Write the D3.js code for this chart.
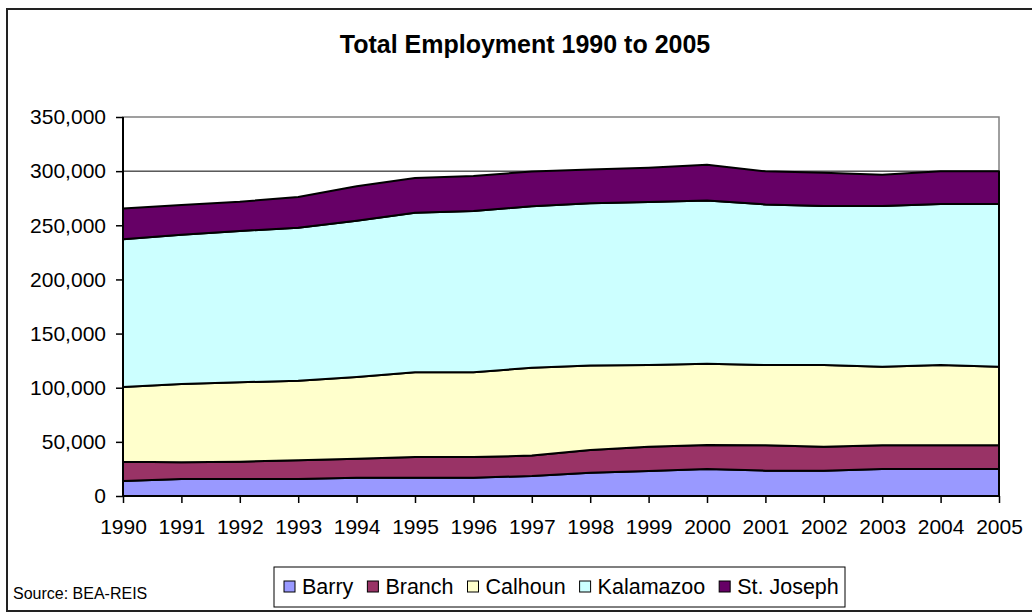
<!DOCTYPE html>
<html>
<head>
<meta charset="utf-8">
<script src="https://cdn.jsdelivr.net/npm/d3@7"></script>
<style>
  body { margin: 0; background: #fff; }
  text { font-family: "Liberation Sans", Arial, sans-serif; }
</style>
</head>
<body>
<svg width="1032" height="613"></svg>
<script>
// values
var years = ["1990", "1991", "1992", "1993", "1994", "1995", "1996", "1997",
  "1998", "1999", "2000", "2001", "2002", "2003", "2004", "2005"];
var counties = ["Barry", "Branch", "Calhoun", "Kalamazoo", "St. Joseph"];
var barry = [13900, 15700, 15700, 15700, 16900, 16900, 16900, 18500, 21500, 23000, 24900, 23400, 23400, 24900, 24900, 24900];
var branch = [17800, 15400, 16000, 17200, 17600, 19100, 19100, 18800, 21000, 22500, 22200, 23400, 22100, 21900, 21900, 21900];
var calhoun = [68900, 72300, 73300, 73600, 75400, 78200, 78200, 81200, 77900, 75500, 75100, 74200, 75500, 72600, 74200, 72600];
var kalamazoo = [136400, 137900, 139700, 141300, 144300, 147400, 149000, 149000, 149900, 150500, 150800, 148300, 146800, 148400, 148600, 150200];
var stJoseph = [28600, 27400, 27100, 28300, 31800, 32000, 32300, 32200, 31300, 31700, 32900, 30500, 30800, 28900, 30200, 30200];
var yTicks = [0, 50000, 100000, 150000, 200000, 250000, 300000, 350000];
var colors = ["#9999ff", "#993366", "#ffffcc", "#ccffff", "#660066"];

var rows = years.map(function(y, i) {
  return { year: y, "Barry": barry[i], "Branch": branch[i], "Calhoun": calhoun[i], "Kalamazoo": kalamazoo[i], "St. Joseph": stJoseph[i] };
});

var svg = d3.select("svg");

var x = d3.scalePoint().domain(years).range([123, 999]);
var y = d3.scaleLinear().domain([0, 350000]).range([496, 117]);
var z = d3.scaleOrdinal().domain(counties).range(colors);

// outer frame
svg.append("rect")
  .attr("x", 7).attr("y", 9)
  .attr("width", 1040).attr("height", 602)
  .attr("fill", "#fff")
  .attr("stroke", "#222")
  .attr("stroke-width", 2);

svg.append("text")
  .attr("x", 525).attr("y", 53)
  .attr("text-anchor", "middle")
  .attr("font-size", 25)
  .attr("font-weight", "bold")
  .text("Total Employment 1990 to 2005");

// gridlines
svg.append("g")
  .selectAll("line")
  .data(yTicks.slice(1, -1))
  .enter().append("line")
  .attr("x1", 123).attr("x2", 999)
  .attr("y1", function(d) { return y(d); })
  .attr("y2", function(d) { return y(d); })
  .attr("stroke", "#000")
  .attr("stroke-width", 1);

// plot border
svg.append("rect")
  .attr("x", 123).attr("y", 117)
  .attr("width", 999 - 123).attr("height", 496 - 117)
  .attr("fill", "none")
  .attr("stroke", "#808080")
  .attr("stroke-width", 1.5);

var series = d3.stack().keys(counties)(rows);

var area = d3.area()
  .x(function(d) { return x(d.data.year); })
  .y0(function(d) { return y(d[0]); })
  .y1(function(d) { return y(d[1]); });

svg.append("g")
  .selectAll("path")
  .data(series)
  .enter().append("path")
  .attr("d", area)
  .attr("fill", function(d) { return z(d.key); })
  .attr("stroke", "#000")
  .attr("stroke-width", 2)
  .attr("stroke-linejoin", "round");

// axes
var yAxis = svg.append("g")
  .attr("transform", "translate(123,0)")
  .call(d3.axisLeft(y).tickValues(yTicks).tickSize(7).tickPadding(10)
    .tickFormat(d3.format(",")));

var xAxis = svg.append("g")
  .attr("transform", "translate(0,496)")
  .call(d3.axisBottom(x).tickSize(7).tickPadding(16));

[yAxis, xAxis].forEach(function(a) {
  a.select(".domain").attr("stroke", "#000").attr("stroke-width", 2);
  a.selectAll(".tick line").attr("stroke", "#000").attr("stroke-width", 1.5);
  a.selectAll("text")
    .attr("font-family", "'Liberation Sans', Arial, sans-serif")
    .attr("font-size", 21)
    .attr("fill", "#000");
});
xAxis.select(".domain").attr("d", "M123,0H999");
yAxis.select(".domain").attr("d", "M0,117V496");

svg.append("text")
  .attr("x", 13).attr("y", 599)
  .attr("font-size", 16)
  .text("Source: BEA-REIS");

// legend
svg.append("rect")
  .attr("x", 274).attr("y", 567)
  .attr("width", 571).attr("height", 40)
  .attr("fill", "#fff")
  .attr("stroke", "#000")
  .attr("stroke-width", 1);

var legend = svg.append("g");
var lx = 284;
counties.forEach(function(c) {
  legend.append("rect")
    .attr("x", lx).attr("y", 581)
    .attr("width", 11).attr("height", 11)
    .attr("fill", z(c))
    .attr("stroke", "#000")
    .attr("stroke-width", 1);
  var t = legend.append("text")
    .attr("x", lx + 18).attr("y", 594)
    .attr("font-size", 21.5)
    .text(c);
  lx += 18 + t.node().getComputedTextLength() + 14;
});
</script>
</body>
</html>
